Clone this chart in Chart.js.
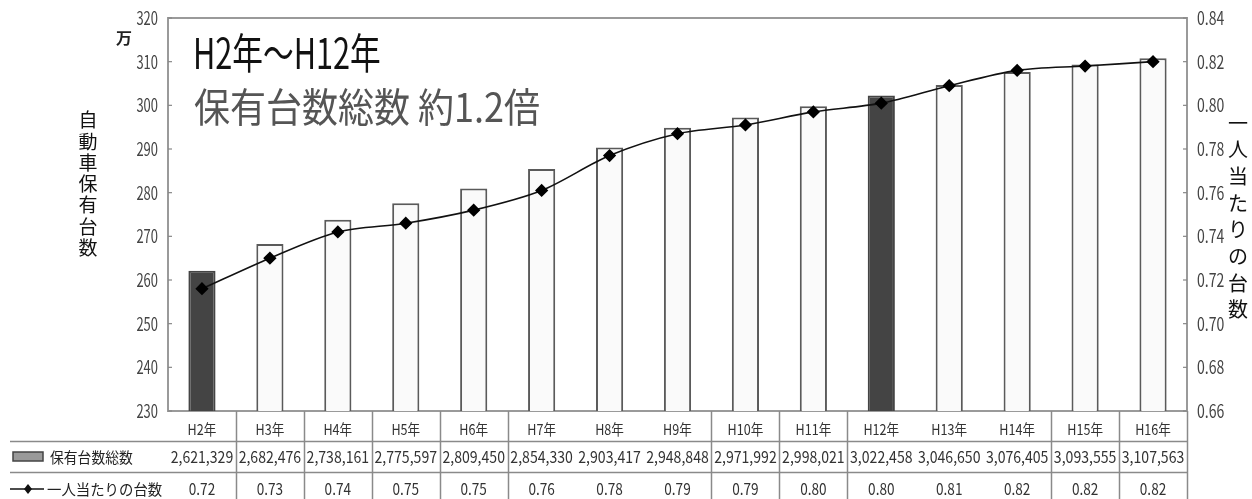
<!DOCTYPE html>
<html lang="ja">
<head>
<meta charset="UTF-8">
<title>自動車保有台数の推移</title>
<script src="https://cdn.jsdelivr.net/npm/chart.js"></script>
<style>
  html, body { margin: 0; padding: 0; background: #fff; }
  #wrap { width: 1252px; height: 499px; }
</style>
</head>
<body>
<div id="wrap"><canvas id="chart" width="1252" height="499"></canvas></div>
<script>
// 年度ごとのデータ
const years = ['H2年', 'H3年', 'H4年', 'H5年', 'H6年', 'H7年', 'H8年', 'H9年',
  'H10年', 'H11年', 'H12年', 'H13年', 'H14年', 'H15年', 'H16年'];
const vehicleTotals = [2621329, 2682476, 2738161, 2775597, 2809450, 2854330, 2903417,
  2948848, 2971992, 2998021, 3022458, 3046650, 3076405, 3093555, 3107563];
const perPerson = [0.716, 0.730, 0.742, 0.746, 0.752, 0.761, 0.777, 0.787,
  0.791, 0.797, 0.801, 0.809, 0.816, 0.818, 0.820];
const darkYears = ['H2年', 'H12年'];

const FONT = "'Noto Sans CJK JP', 'Noto Sans', sans-serif";

// 横に詰めた文字を描く
function narrow(ctx, text, x, y, size, sx, color, align, weight) {
  ctx.save();
  ctx.translate(x, y);
  ctx.scale(sx, 1);
  ctx.font = (weight || 'normal') + ' ' + size + 'px ' + FONT;
  ctx.fillStyle = color;
  ctx.textAlign = align || 'center';
  ctx.textBaseline = 'middle';
  ctx.fillText(text, 0, 0);
  ctx.restore();
}

const frameAndTable = {
  id: 'frameAndTable',
  beforeDatasetsDraw(chart) {
    const { ctx, chartArea: a } = chart;
    ctx.save();
    ctx.strokeStyle = '#9a9a9a';
    ctx.lineWidth = 2;
    ctx.strokeRect(a.left, a.top, a.right - a.left, a.bottom - a.top);
    // 内向きの目盛り
    ctx.lineWidth = 1.2;
    ctx.strokeStyle = '#888';
    chart.scales.y.ticks.forEach(t => {
      const py = chart.scales.y.getPixelForValue(t.value);
      ctx.beginPath(); ctx.moveTo(a.left, py); ctx.lineTo(a.left + 4, py); ctx.stroke();
    });
    chart.scales.y1.ticks.forEach(t => {
      const py = chart.scales.y1.getPixelForValue(t.value);
      ctx.beginPath(); ctx.moveTo(a.right - 4, py); ctx.lineTo(a.right, py); ctx.stroke();
    });
    ctx.restore();
  },
  afterDraw(chart) {
    const { ctx, chartArea: a } = chart;
    const x = chart.scales.x, y = chart.scales.y, y1 = chart.scales.y1;
    const h = chart.height;

    // 軸ラベル
    y.ticks.forEach(t => narrow(ctx, String(t.value), 158, y.getPixelForValue(t.value), 18, 0.72, '#444', 'right'));
    y1.ticks.forEach(t => narrow(ctx, t.value.toFixed(2), 1197, y1.getPixelForValue(t.value), 18, 0.78, '#444', 'left'));
    narrow(ctx, '万', 124, 38, 16, 1, '#222', 'center', 'bold');
    '自動車保有台数'.split('').forEach((c, i) => narrow(ctx, c, 88, 120 + i * 21.3, 19, 1, '#111'));
    '一人当たりの台数'.split('').forEach((c, i) => narrow(ctx, c, 1238, 123 + i * 26.7, 20, 1, '#111'));

    // 見出し
    narrow(ctx, 'H2年～H12年', 193, 53, 42, 0.73, '#111', 'left');
    narrow(ctx, '保有台数総数 約1.2倍', 194, 107, 40, 0.9, '#555', 'left');

    // 下の表
    const w = (a.right - a.left) / years.length;
    const row1 = 441.5, row2 = 472.5;
    ctx.save();
    ctx.strokeStyle = '#8a8a8a';
    ctx.lineWidth = 1.5;
    ctx.beginPath();
    ctx.moveTo(10, row1); ctx.lineTo(a.right, row1);
    ctx.moveTo(10, row2); ctx.lineTo(a.right, row2);
    [1, 2, 3, 4, 5, 8, 9, 10, 13, 14, 15].forEach(k => {
      const px = Math.round(a.left + k * w) + 0.5;
      ctx.moveTo(px, a.bottom); ctx.lineTo(px, h);
    });
    ctx.stroke();

    // 凡例記号
    ctx.fillStyle = '#9a9a9a';
    ctx.strokeStyle = '#444';
    ctx.lineWidth = 1.5;
    ctx.fillRect(13, 452, 30, 9);
    ctx.strokeRect(13, 452, 30, 9);
    ctx.strokeStyle = '#111';
    ctx.beginPath(); ctx.moveTo(10, 489); ctx.lineTo(44, 489); ctx.stroke();
    ctx.fillStyle = '#111';
    ctx.beginPath();
    ctx.moveTo(28, 484); ctx.lineTo(32, 489); ctx.lineTo(28, 494); ctx.lineTo(24, 489);
    ctx.closePath(); ctx.fill();
    ctx.restore();

    narrow(ctx, '保有台数総数', 50, 457, 15, 0.92, '#222', 'left');
    narrow(ctx, '一人当たりの台数', 47, 489, 15, 0.96, '#222', 'left');

    years.forEach((yr, i) => {
      const cx = x.getPixelForValue(i);
      narrow(ctx, yr, cx, 429, 15, 0.84, '#333');
      narrow(ctx, vehicleTotals[i].toLocaleString('en-US'), cx, 457, 16, 0.88, '#333');
      narrow(ctx, perPerson[i].toFixed(2), cx, 489, 16, 0.85, '#333');
    });
  }
};

new Chart(document.getElementById('chart'), {
  type: 'bar',
  data: {
    labels: years,
    datasets: [
      {
        type: 'line',
        label: '一人当たりの台数',
        data: perPerson,
        yAxisID: 'y1',
        borderColor: '#111',
        borderWidth: 1.6,
        tension: 0.3,
        pointStyle: 'rectRot',
        pointRadius: 5.5,
        pointBackgroundColor: '#000',
        pointBorderColor: '#000',
        order: 0
      },
      {
        label: '保有台数総数',
        data: vehicleTotals.map(v => v / 10000),
        yAxisID: 'y',
        backgroundColor: years.map(yr => darkYears.includes(yr) ? '#444' : '#fafafa'),
        borderColor: years.map(yr => darkYears.includes(yr) ? '#444' : '#5a5a5a'),
        borderWidth: 2,
        barPercentage: 0.4,
        categoryPercentage: 1,
        order: 1
      }
    ]
  },
  options: {
    responsive: false,
    animation: false,
    layout: { padding: { top: 18, bottom: 88, left: 0, right: 0 } },
    plugins: { legend: { display: false }, tooltip: { enabled: false } },
    scales: {
      x: { display: false, offset: true },
      y: {
        position: 'left',
        min: 230, max: 320,
        ticks: { stepSize: 10, display: false },
        grid: { display: false },
        border: { display: false },
        afterFit(s) { s.width = 168; }
      },
      y1: {
        position: 'right',
        min: 0.66, max: 0.84,
        ticks: { stepSize: 0.02, display: false },
        grid: { display: false },
        border: { display: false },
        afterFit(s) { s.width = 65; }
      }
    }
  },
  plugins: [frameAndTable]
});
</script>
</body>
</html>
